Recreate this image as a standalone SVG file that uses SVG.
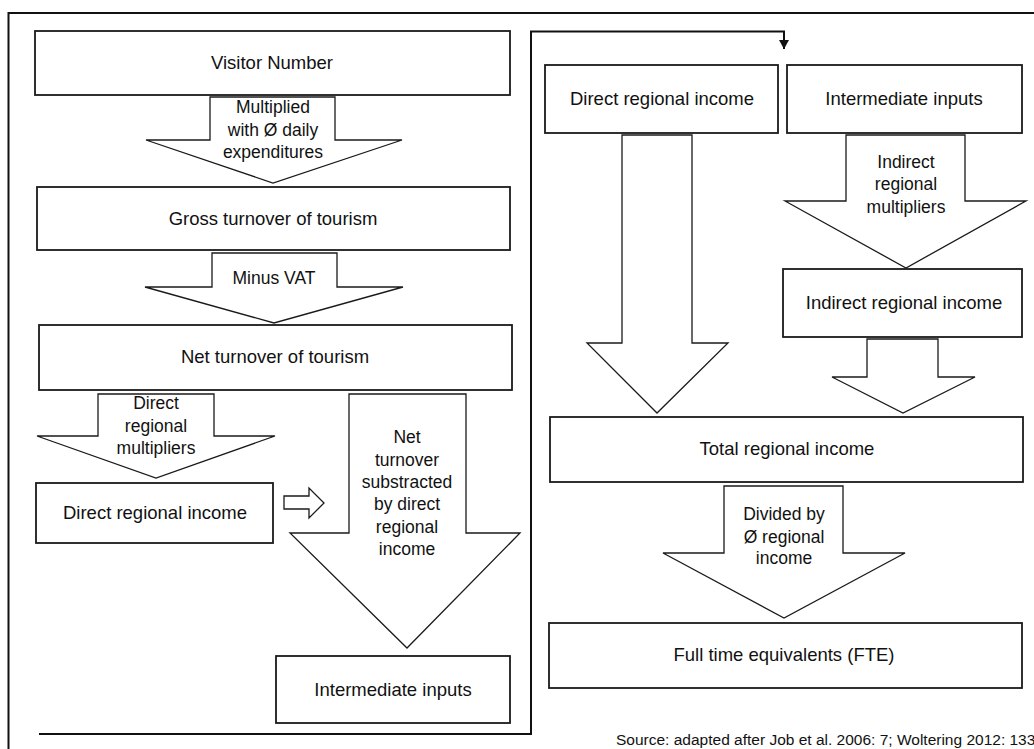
<svg xmlns="http://www.w3.org/2000/svg" width="1034" height="749" viewBox="0 0 1034 749">
<defs>
<style>
.box{fill:#fff;stroke:#1a1a1a;stroke-width:1.8}
.arr{fill:#fff;stroke:#1a1a1a;stroke-width:1.3;stroke-linejoin:miter}
.frame{fill:none;stroke:#111;stroke-width:2}
.t{font-family:"Liberation Sans",Arial,sans-serif;font-size:18.5px;fill:#111;text-anchor:middle}
.s{font-family:"Liberation Sans",Arial,sans-serif;font-size:17.5px;fill:#111;text-anchor:middle}
.src{font-family:"Liberation Sans",Arial,sans-serif;font-size:15.5px;fill:#111}
</style>
<marker id="ah" markerWidth="10" markerHeight="10" refX="9" refY="5" orient="auto" markerUnits="userSpaceOnUse">
<path d="M0,0 L9,5 L0,10 Z" fill="#111"/>
</marker>
</defs>
<rect width="1034" height="749" fill="#fff"/>
<g id="connectors">
<path class="frame" d="M8.5,749 L8.5,13 L1034,13"/>
<path class="frame" d="M39,734 L531,734 L531,31.5 L784,31.5 L784,49" marker-end="url(#ah)"/>
</g>
<g id="visitor"><rect class="box" x="35" y="31" width="475" height="64"/><text class="t" x="272" y="69">Visitor Number</text></g>
<g id="arrow-multiplied"><path class="arr" d="M210,97 L335,97 L335,140 L402,140 L273,183 L146,140 L210,140 Z"/>
<text class="s" x="273" y="113">Multiplied</text><text class="s" x="273" y="136">with Ø daily</text><text class="s" x="273" y="158">expenditures</text></g>
<g id="gross"><rect class="box" x="37" y="187" width="473" height="63"/><text class="t" x="273" y="225">Gross turnover of tourism</text></g>
<g id="arrow-vat"><path class="arr" d="M212,253 L337,253 L337,287 L403,287 L274,323 L145,287 L212,287 Z"/>
<text class="s" x="274" y="284">Minus VAT</text></g>
<g id="net"><rect class="box" x="39" y="325" width="473" height="65"/><text class="t" x="275" y="363">Net turnover of tourism</text></g>
<g id="arrow-direct-mult"><path class="arr" d="M98,394 L214,394 L214,436 L275,436 L156,478 L37,436 L98,436 Z"/>
<text class="s" x="156" y="409">Direct</text><text class="s" x="156" y="432">regional</text><text class="s" x="156" y="454">multipliers</text></g>
<g id="direct-left"><rect class="box" x="36" y="483" width="237" height="60"/><text class="t" x="155" y="519">Direct regional income</text></g>
<g id="arrow-small"><path class="arr" d="M284,496 L309,496 L309,488 L324,503 L309,518 L309,509 L284,509 Z"/></g>
<g id="arrow-net-sub"><path class="arr" d="M349,394 L466,394 L466,533 L520,533 L407,648 L290,533 L349,533 Z"/>
<text class="s" x="407" y="443">Net</text><text class="s" x="407" y="466">turnover</text><text class="s" x="407" y="488">substracted</text><text class="s" x="407" y="510">by direct</text><text class="s" x="407" y="533">regional</text><text class="s" x="407" y="555">income</text></g>
<g id="inter-left"><rect class="box" x="276" y="656" width="234" height="67"/><text class="t" x="393" y="696">Intermediate inputs</text></g>
<g id="direct-right"><rect class="box" x="545" y="65" width="233" height="68"/><text class="t" x="662" y="105">Direct regional income</text></g>
<g id="inter-right"><rect class="box" x="787" y="65" width="235" height="68"/><text class="t" x="904" y="105">Intermediate inputs</text></g>
<g id="arrow-direct-long"><path class="arr" d="M622,135 L692,135 L692,343 L728,343 L657,413 L587,343 L622,343 Z"/></g>
<g id="arrow-indirect-mult"><path class="arr" d="M846,135 L965,135 L965,201 L1026,201 L906,268 L785,201 L846,201 Z"/>
<text class="s" x="906" y="168">Indirect</text><text class="s" x="906" y="190">regional</text><text class="s" x="906" y="213">multipliers</text></g>
<g id="indirect-income"><rect class="box" x="783" y="269" width="239" height="68"/><text class="t" x="904" y="309">Indirect regional income</text></g>
<g id="arrow-indirect-short"><path class="arr" d="M867,339 L938,339 L938,377 L975,377 L903,413 L832,377 L867,377 Z"/></g>
<g id="total"><rect class="box" x="550" y="417" width="473" height="65"/><text class="t" x="787" y="455">Total regional income</text></g>
<g id="arrow-divided"><path class="arr" d="M724,486 L843,486 L843,553 L905,553 L784,618 L663,553 L724,553 Z"/>
<text class="s" x="784" y="520">Divided by</text><text class="s" x="784" y="543">Ø regional</text><text class="s" x="784" y="564">income</text></g>
<g id="fte"><rect class="box" x="549" y="623" width="473" height="65"/><text class="t" x="784" y="661">Full time equivalents (FTE)</text></g>
<text class="src" x="616" y="745">Source: adapted after Job et al. 2006: 7; Woltering 2012: 133</text>
</svg>
